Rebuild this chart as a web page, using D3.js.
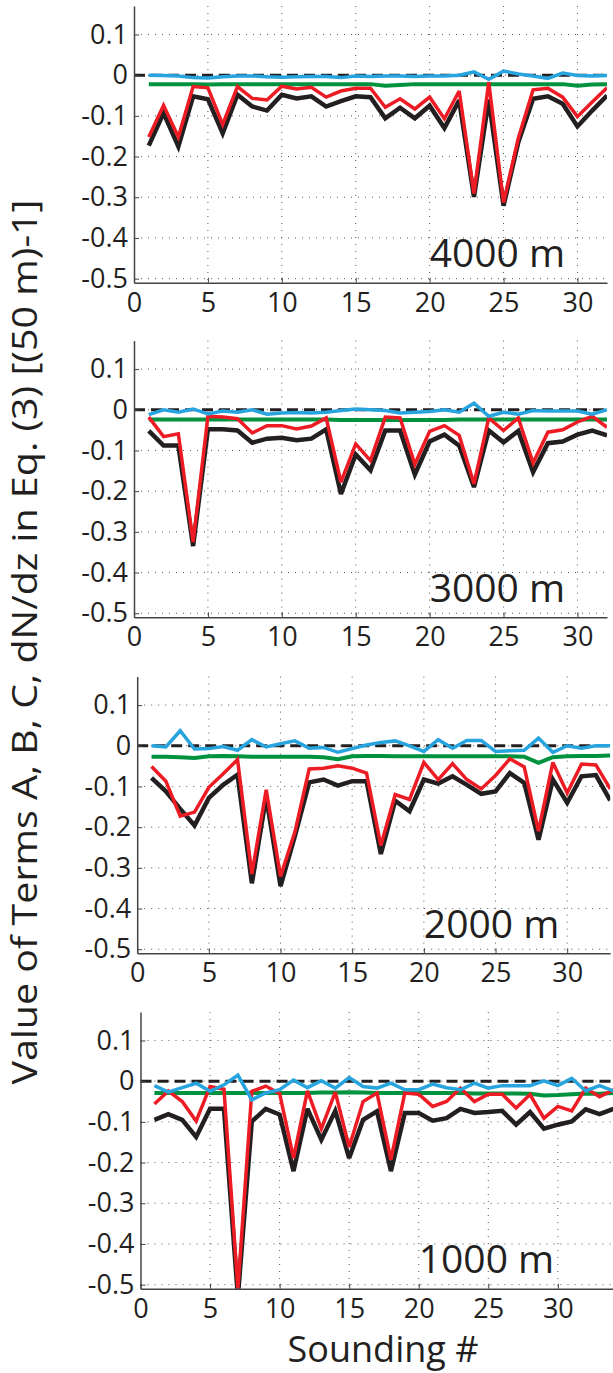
<!DOCTYPE html>
<html>
<head>
<meta charset="utf-8">
<script src="https://cdn.jsdelivr.net/npm/d3@7"></script>
<style>
	body { margin: 0; background: #fff; }
	text { font-family: "Open Sans", "Noto Sans", sans-serif; fill: #231f20; }
</style>
</head>
<body>
<script>
// Sounding numbers (x categories)
var soundings = [1, 2, 3, 4, 5, 6, 7, 8, 9, 10, 11, 12, 13, 14, 15, 16, 17,
	18, 19, 20, 21, 22, 23, 24, 25, 26, 27, 28, 29, 30, 31, 32, 33, 34];

// Tick labels
var xTicks = [0, 5, 10, 15, 20, 25, 30];
var yTicks = [0.1, 0, -0.1, -0.2, -0.3, -0.4, -0.5];
var yTickLabels = ["0.1", "0", "-0.1", "-0.2", "-0.3", "-0.4", "-0.5"];

// Panel titles
var depths = ["4000 m", "3000 m", "2000 m", "1000 m"];

// 4000 m
var black4000 = [-0.173, -0.093, -0.175, -0.052, -0.059, -0.143, -0.048, -0.077, -0.087, -0.048, -0.057, -0.052, -0.077, -0.064, -0.052, -0.054,
	-0.106, -0.080, -0.106, -0.075, -0.130, -0.062, -0.299, -0.060, -0.321, -0.165, -0.058, -0.052, -0.070, -0.126, -0.087, -0.050];
var red4000 = [-0.152, -0.074, -0.152, -0.028, -0.031, -0.121, -0.028, -0.057, -0.061, -0.027, -0.034, -0.030, -0.054, -0.039, -0.032, -0.032,
	-0.079, -0.058, -0.083, -0.054, -0.107, -0.039, -0.291, -0.017, -0.313, -0.155, -0.036, -0.032, -0.054, -0.102, -0.066, -0.031];
var green4000 = [-0.022, -0.022, -0.022, -0.022, -0.023, -0.022, -0.022, -0.022, -0.022, -0.022, -0.022, -0.022, -0.022, -0.022, -0.022, -0.022,
	-0.026, -0.024, -0.022, -0.022, -0.022, -0.022, -0.022, -0.022, -0.022, -0.022, -0.022, -0.022, -0.022, -0.026, -0.023, -0.022];
var blue4000 = [0.000, -0.001, -0.002, -0.006, -0.007, -0.004, -0.002, -0.002, -0.004, -0.005, -0.004, -0.003, -0.003, -0.006, -0.002, -0.003,
	-0.002, -0.002, -0.003, -0.002, -0.002, 0.000, 0.008, -0.010, 0.010, 0.003, -0.002, -0.008, 0.005, -0.001, -0.002, -0.001];

// 3000 m
var black3000 = [-0.052, -0.088, -0.088, -0.335, -0.048, -0.048, -0.051, -0.081, -0.071, -0.069, -0.075, -0.071, -0.048, -0.207, -0.110, -0.149,
	-0.051, -0.051, -0.159, -0.078, -0.061, -0.088, -0.190, -0.051, -0.080, -0.052, -0.153, -0.082, -0.078, -0.061, -0.051, -0.063];
var red3000 = [-0.018, -0.066, -0.059, -0.325, -0.016, -0.018, -0.022, -0.057, -0.039, -0.039, -0.047, -0.040, -0.020, -0.178, -0.084, -0.125,
	-0.018, -0.020, -0.134, -0.053, -0.039, -0.063, -0.182, -0.020, -0.051, -0.020, -0.131, -0.055, -0.049, -0.030, -0.016, -0.043];
var green3000 = [-0.024, -0.024, -0.024, -0.024, -0.024, -0.024, -0.024, -0.024, -0.024, -0.024, -0.024, -0.024, -0.024, -0.025, -0.025, -0.025,
	-0.025, -0.025, -0.025, -0.025, -0.025, -0.024, -0.024, -0.024, -0.024, -0.024, -0.024, -0.024, -0.024, -0.024, -0.024, -0.024];
var blue3000 = [-0.012, 0.000, -0.006, 0.002, -0.010, -0.003, -0.006, 0.000, -0.011, -0.008, -0.007, -0.008, -0.006, -0.002, 0.002, 0.000,
	-0.002, -0.008, -0.006, -0.004, 0.000, -0.006, 0.016, -0.016, -0.006, -0.011, -0.002, -0.003, -0.003, -0.003, -0.011, 0.000];

// 2000 m
var black2000 = [-0.079, -0.112, -0.155, -0.196, -0.128, -0.096, -0.071, -0.338, -0.125, -0.345, -0.222, -0.090, -0.083, -0.098, -0.087, -0.087,
	-0.266, -0.135, -0.161, -0.083, -0.093, -0.075, -0.096, -0.118, -0.112, -0.067, -0.091, -0.231, -0.083, -0.140, -0.075, -0.072, -0.134];
var red2000 = [-0.051, -0.087, -0.173, -0.163, -0.102, -0.069, -0.034, -0.315, -0.108, -0.321, -0.212, -0.057, -0.055, -0.049, -0.055, -0.067,
	-0.245, -0.120, -0.132, -0.041, -0.083, -0.044, -0.083, -0.106, -0.073, -0.032, -0.052, -0.210, -0.041, -0.116, -0.045, -0.047, -0.106];
var green2000 = [-0.027, -0.027, -0.028, -0.030, -0.026, -0.025, -0.026, -0.027, -0.027, -0.027, -0.027, -0.027, -0.028, -0.033, -0.026, -0.025,
	-0.025, -0.026, -0.026, -0.026, -0.026, -0.026, -0.026, -0.026, -0.026, -0.026, -0.027, -0.042, -0.028, -0.026, -0.025, -0.025, -0.024];
var blue2000 = [0.000, -0.003, 0.037, -0.008, -0.007, -0.002, -0.011, 0.015, -0.003, 0.005, 0.012, -0.006, -0.004, -0.016, -0.007, 0.002,
	0.008, 0.012, 0.000, -0.014, 0.015, -0.006, 0.013, 0.013, -0.014, -0.012, -0.011, 0.019, -0.016, 0.000, -0.006, 0.000, 0.000];

// 1000 m
var black1000 = [-0.095, -0.081, -0.095, -0.137, -0.068, -0.068, -0.530, -0.099, -0.068, -0.082, -0.221, -0.068, -0.144, -0.073, -0.189, -0.095, -0.074,
	-0.221, -0.078, -0.078, -0.097, -0.091, -0.068, -0.078, -0.076, -0.073, -0.107, -0.076, -0.117, -0.107, -0.099, -0.069, -0.081, -0.068];
var red1000 = [-0.056, -0.024, -0.050, -0.098, -0.013, -0.020, -0.510, -0.025, -0.012, -0.030, -0.189, -0.024, -0.117, -0.027, -0.162, -0.050, -0.029,
	-0.193, -0.029, -0.032, -0.062, -0.050, -0.017, -0.050, -0.032, -0.032, -0.066, -0.033, -0.091, -0.062, -0.073, -0.017, -0.038, -0.021];
var green1000 = [-0.029, -0.029, -0.029, -0.029, -0.029, -0.029, -0.029, -0.029, -0.029, -0.029, -0.029, -0.029, -0.028, -0.028, -0.027, -0.028, -0.029,
	-0.029, -0.029, -0.029, -0.029, -0.029, -0.029, -0.030, -0.030, -0.030, -0.030, -0.031, -0.035, -0.034, -0.032, -0.030, -0.031, -0.029];
var blue1000 = [-0.011, -0.027, -0.016, -0.005, -0.025, -0.009, 0.015, -0.046, -0.029, -0.021, 0.003, -0.016, 0.001, -0.017, 0.009, -0.013, -0.017,
	-0.005, -0.021, -0.021, -0.007, -0.016, -0.021, -0.005, -0.017, -0.011, -0.011, -0.011, 0.001, -0.011, 0.007, -0.024, -0.011, -0.024];

// Series per panel (draw order: black, green, red, blue)
var panelSeries = [
	[black4000, green4000, red4000, blue4000],
	[black3000, green3000, red3000, blue3000],
	[black2000, green2000, red2000, blue2000],
	[black1000, green1000, red1000, blue1000]
];
var xMax = [32, 32, 33, 34];

// Styles
var colors = ["#231f20", "#00923f", "#ed1c24", "#27a4dd"];
var widths = [4.5, 4, 3.5, 3.5];

// Panel layout (px), measured by eye
var layout = [
	{ left: 134,   top: 6,     bottom: 282.7 },
	{ left: 134,   top: 340.6, bottom: 617.3 },
	{ left: 137.2, top: 676.6, bottom: 953.3 },
	{ left: 140.5, top: 1012,  bottom: 1288.7 }
];
var plotWidth = 473;
var yDomain = [-0.51, 0.17];

var svg = d3.select("body")
	.append("svg")
	.attr("width", 613)
	.attr("height", 1373);

panelSeries.forEach(function(series, p){
	var lay = layout[p];
	var h = lay.bottom - lay.top;
	var x = d3.scaleLinear().domain([0, xMax[p]]).range([0, plotWidth]);
	var y = d3.scaleLinear().domain(yDomain).range([h, 0]);

	var g = svg.append("g")
		.attr("transform", "translate(" + lay.left + "," + lay.top + ")");

	// clip
	g.append("clipPath")
		.attr("id", "clip" + p)
		.append("rect")
		.attr("width", plotWidth)
		.attr("height", h);

	// dotted grid
	g.append("g").selectAll("line")
		.data(xTicks.filter(function(d){ return d > 0; }))
		.enter().append("line")
		.attr("x1", function(d){ return x(d); })
		.attr("x2", function(d){ return x(d); })
		.attr("y1", 0)
		.attr("y2", h)
		.attr("stroke", "#555")
		.attr("stroke-width", 1)
		.attr("stroke-dasharray", "1,6");
	g.append("g").selectAll("line")
		.data(yTicks)
		.enter().append("line")
		.attr("x1", 0)
		.attr("x2", plotWidth)
		.attr("y1", function(d){ return y(d); })
		.attr("y2", function(d){ return y(d); })
		.attr("stroke", "#555")
		.attr("stroke-width", 1)
		.attr("stroke-dasharray", "1,6");

	// dashed zero line
	g.append("line")
		.attr("x1", 0)
		.attr("x2", plotWidth)
		.attr("y1", y(0))
		.attr("y2", y(0))
		.attr("stroke", "#231f20")
		.attr("stroke-width", 3)
		.attr("stroke-dasharray", "11,6");

	// series
	var plot = g.append("g").attr("clip-path", "url(#clip" + p + ")");
	series.forEach(function(vals, s){
		var line = d3.line()
			.x(function(d, i){ return x(soundings[i]); })
			.y(function(d){ return y(d); });
		plot.append("path")
			.datum(vals)
			.attr("d", line)
			.attr("fill", "none")
			.attr("stroke", colors[s])
			.attr("stroke-width", widths[s])
			.attr("stroke-linejoin", "miter")
			.attr("stroke-miterlimit", 3);
	});

	// axes
	var yAxis = d3.axisLeft(y)
		.tickValues(yTicks)
		.tickFormat(function(d, i){ return yTickLabels[i]; })
		.tickSizeInner(-5)
		.tickSizeOuter(0)
		.tickPadding(6);
	var xAxis = d3.axisBottom(x)
		.tickValues(xTicks)
		.tickSizeInner(-5)
		.tickSizeOuter(0)
		.tickPadding(10);

	var ya = g.append("g").call(yAxis);
	var xa = g.append("g").attr("transform", "translate(0," + h + ")").call(xAxis);
	[ya, xa].forEach(function(a){
		a.select(".domain").attr("stroke", "#444").attr("stroke-width", 1.5);
		a.selectAll(".tick line").attr("stroke", "#444").attr("stroke-width", 1);
		a.selectAll(".tick text")
			.style("font-size", "27px")
			.style("font-family", "'Open Sans', sans-serif")
			.attr("fill", "#231f20");
	});

	// depth label
	g.append("text")
		.attr("x", x(20))
		.attr("y", y(-0.472))
		.style("font-size", "39px")
		.text(depths[p]);
});

// axis titles
svg.append("text")
	.attr("transform", "translate(37,642) rotate(-90)")
	.attr("text-anchor", "middle")
	.attr("textLength", 885)
	.attr("lengthAdjust", "spacingAndGlyphs")
	.style("font-size", "35px")
	.text("Value of Terms A, B, C, dN/dz in Eq. (3)  [(50 m)-1]");

svg.append("text")
	.attr("x", 383)
	.attr("y", 1361.7)
	.attr("text-anchor", "middle")
	.style("font-size", "36px")
	.text("Sounding #");
</script>
</body>
</html>
